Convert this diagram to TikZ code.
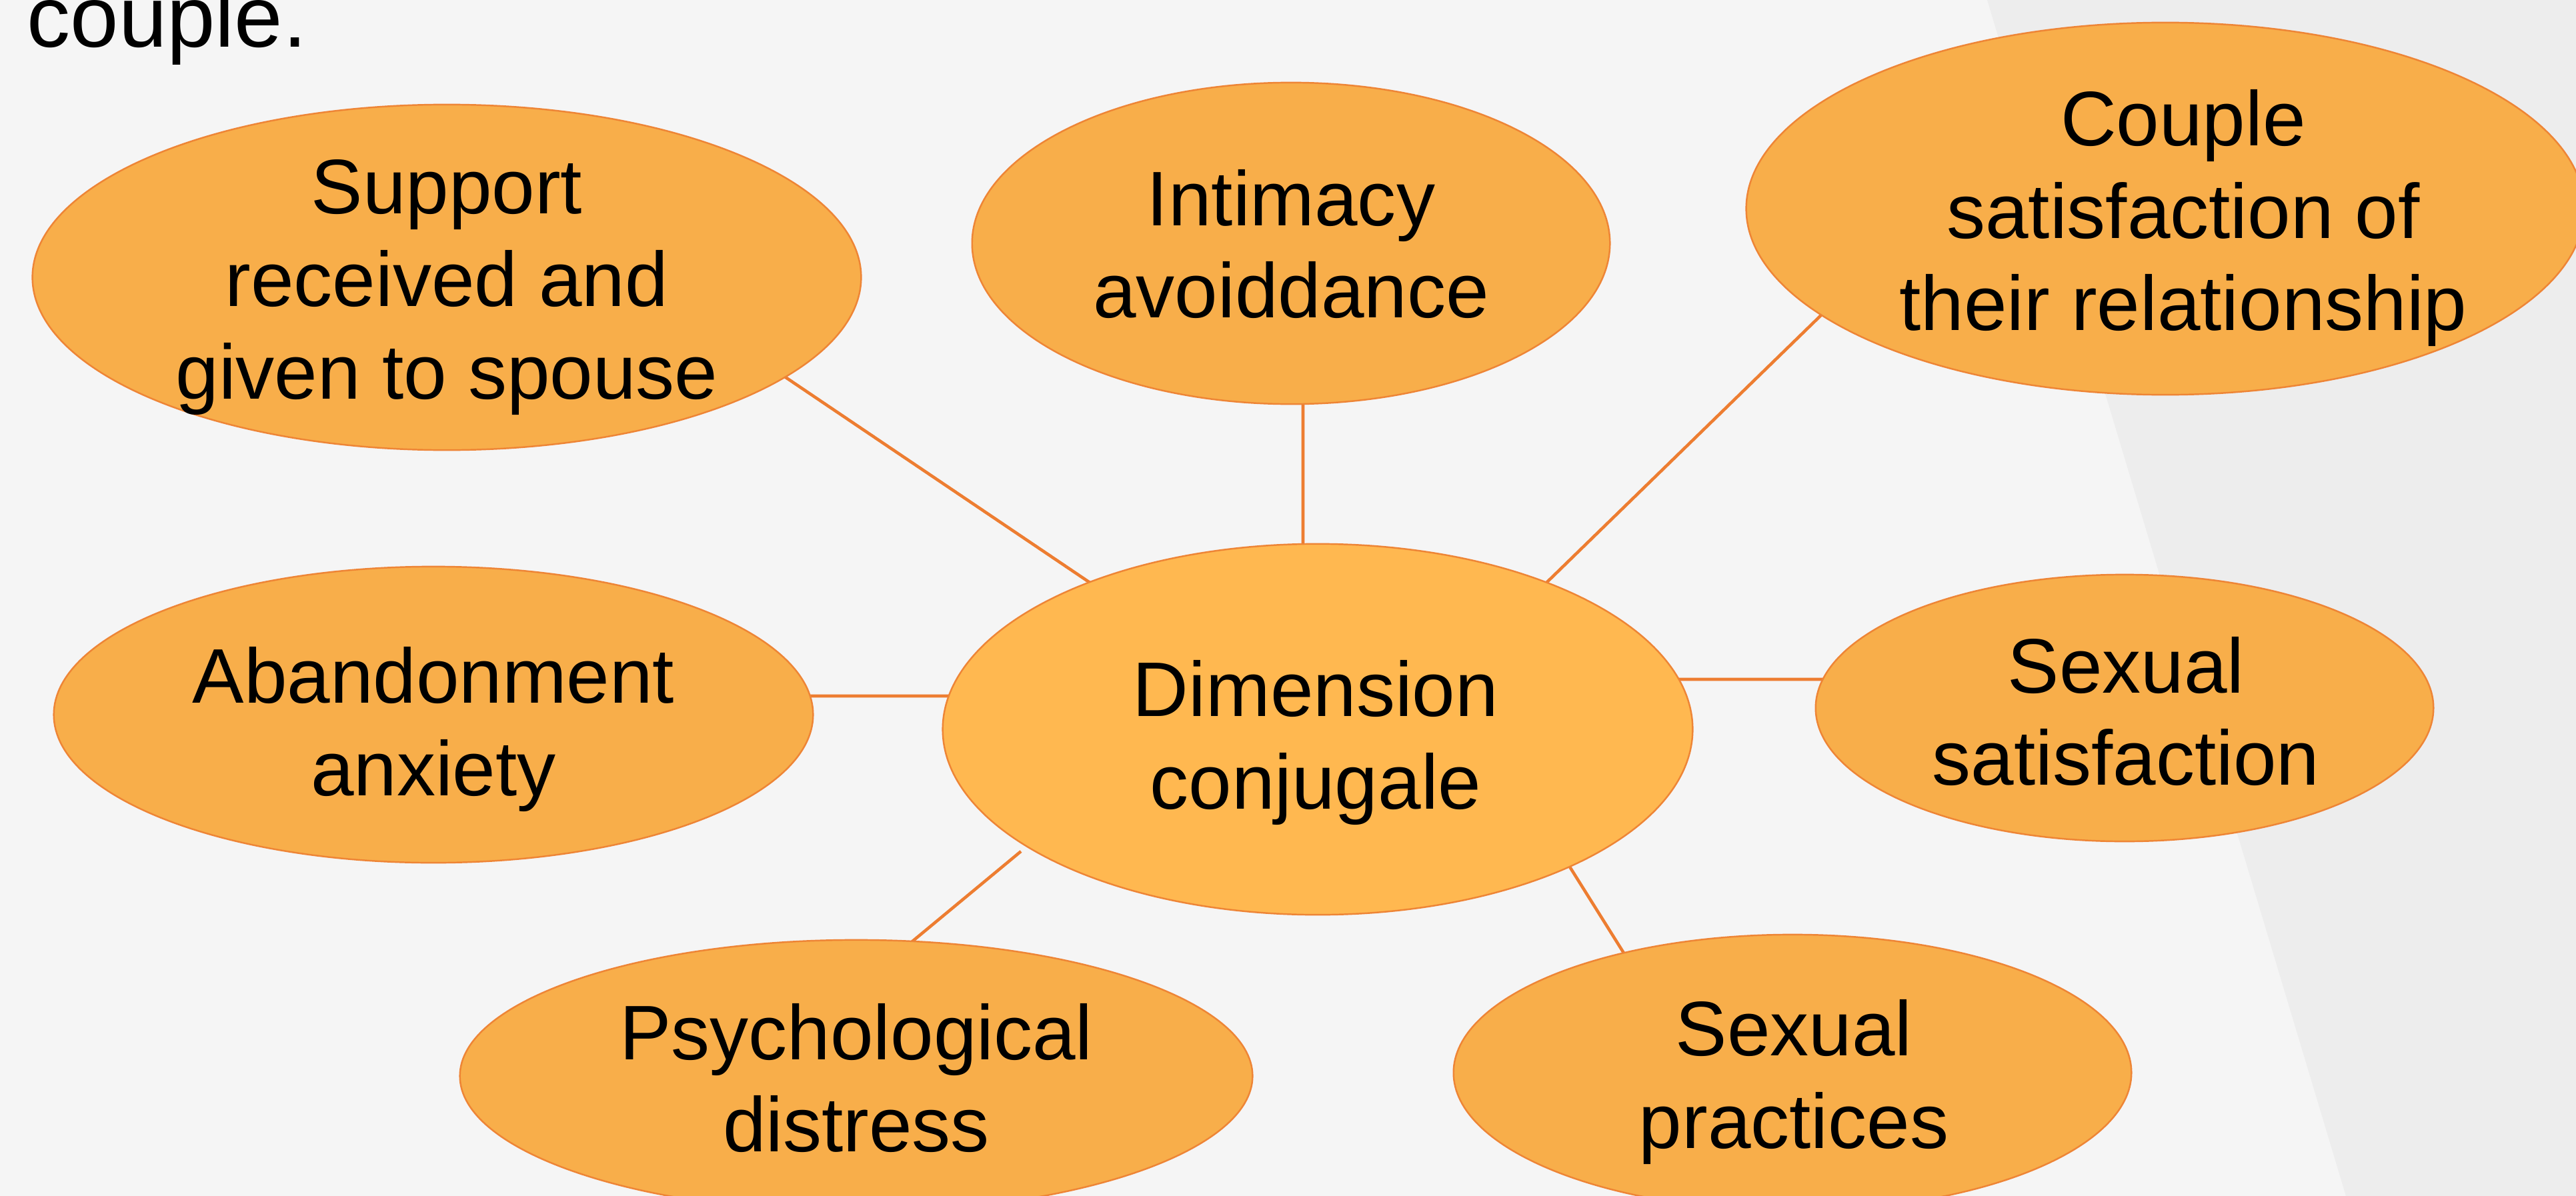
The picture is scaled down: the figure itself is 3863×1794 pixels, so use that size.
\documentclass[tikz,border=0pt]{standalone}
\usepackage{fontspec}
\setmainfont{Liberation Sans}
\usetikzlibrary{shapes.geometric}

\definecolor{pagebg}{HTML}{F5F5F5}
\definecolor{panelbg}{HTML}{EDEDED}
\definecolor{bubblefill}{HTML}{F8AE4A}
\definecolor{hubfill}{HTML}{FFB850}
\definecolor{rim}{HTML}{EE8536}
\definecolor{linkcol}{HTML}{ED7D31}

\pgfdeclarelayer{paper}
\pgfdeclarelayer{wires}
\pgfsetlayers{paper,wires,main}

\begin{document}
\begin{tikzpicture}[x=0.01cm, y=-0.01cm,
  bubble/.style={ellipse, draw=rim, line width=0.7pt, fill=bubblefill, inner sep=0pt, outer sep=0pt},
  txt/.style={align=center, font=\fontsize{33}{39.5}\selectfont, inner sep=0pt, text=black},
  link/.style={draw=linkcol, line width=1.3pt}]

% page and side panel
\useasboundingbox (0,0) rectangle (3863,1794);
\begin{pgfonlayer}{paper}
\fill[pagebg] (0,0) rectangle (3863,1794);
\fill[panelbg] (2980,0) -- (3518,1794) -- (3863,1794) -- (3863,0) -- cycle;
\end{pgfonlayer}

% tail of the heading line above
\node[anchor=base west, inner sep=0pt, font=\fontsize{37}{44}\selectfont] (head) at (40,71) {couple.};

% bubbles
\node[bubble, minimum width=12.42cm, minimum height=5.18cm] (S) at (670,416) {};
\node[bubble, minimum width=9.56cm, minimum height=4.82cm] (I) at (1936,365) {};
\node[bubble, minimum width=12.56cm, minimum height=5.58cm] (K) at (3247,313) {};
\node[bubble, minimum width=11.38cm, minimum height=4.44cm] (A) at (650,1072) {};
\node[bubble, fill=hubfill, minimum width=11.24cm, minimum height=5.56cm] (C) at (1976,1094) {};
\node[bubble, minimum width=9.26cm, minimum height=4.00cm] (SS) at (3186,1062) {};
\node[bubble, minimum width=11.88cm, minimum height=4.08cm] (P) at (1284,1614) {};
\node[bubble, minimum width=10.16cm, minimum height=4.14cm] (SP) at (2688,1609) {};

% labels
\node[txt] (S-txt) at (670,431) {Support\\received and\\given to spouse};
\node[txt] (I-txt) at (1936,366) {Intimacy\\avoiddance};
\node[txt] (K-txt) at (3274,327) {Couple\\satisfaction of\\their relationship};
\node[txt] (A-txt) at (650,1094) {Abandonment\\anxiety};
\node[txt] (C-txt) at (1973,1114) {Dimension\\conjugale};
\node[txt] (SS-txt) at (3188,1067) {Sexual\\satisfaction};
\node[txt] (P-txt) at (1284,1617) {Psychological\\distress};
\node[txt] (SP-txt) at (2690,1623) {Sexual\\practices};

% connectors, laid under the bubbles so each one stops at the rims
\coordinate (P-end) at (1531,1277);
\begin{pgfonlayer}{wires}
\draw[link] ([xshift=4.146cm, yshift=-0.87cm]S.center) -- ([xshift=-2.481cm, yshift=1.57cm]C.center);
\draw[link] ([xshift=0.18cm, yshift=-1.95cm]I.center) -- ([xshift=-0.22cm, yshift=2.34cm]C.center);
\draw[link] ([xshift=-4.274cm, yshift=-0.736cm]K.center) -- ([xshift=2.584cm, yshift=1.376cm]C.center);
\draw[link] ([xshift=4.5cm, yshift=0.28cm]A.center) -- ([xshift=-4.76cm, yshift=0.5cm]C.center);
\draw[link] ([xshift=4.74cm, yshift=0.75cm]C.center) -- ([xshift=-3.86cm, yshift=0.43cm]SS.center);
\draw[link] ([xshift=0.334cm, yshift=1.598cm]P.center) -- (P-end);
\draw[link] ([xshift=-2.277cm, yshift=1.393cm]SP.center) -- ([xshift=3.547cm, yshift=-1.693cm]C.center);
\end{pgfonlayer}
\end{tikzpicture}
\end{document}
